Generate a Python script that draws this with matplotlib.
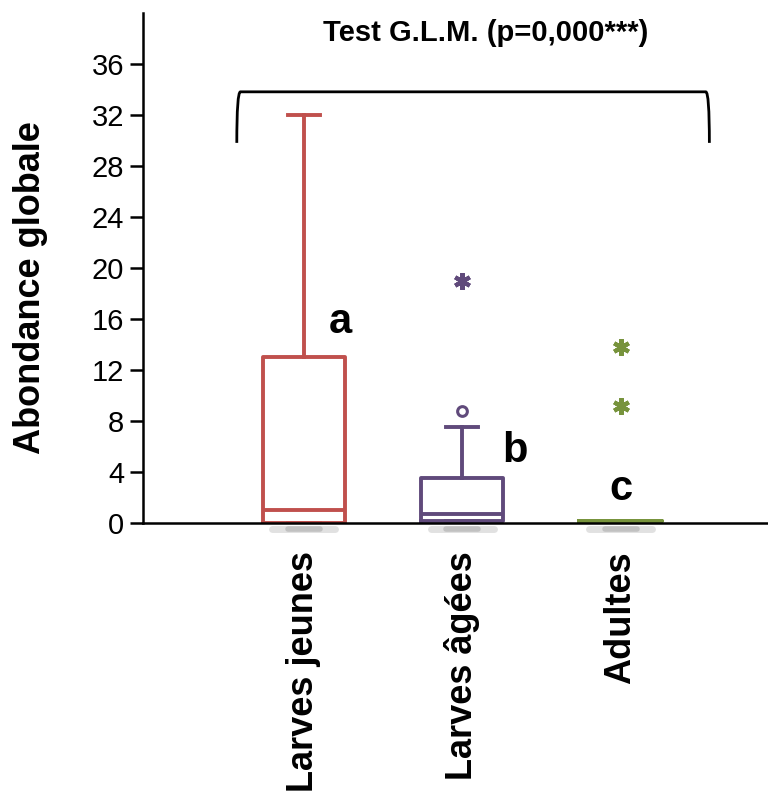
import matplotlib.pyplot as plt
from matplotlib.path import Path
from matplotlib.patches import PathPatch

plt.rcParams["font.family"] = ["Liberation Sans", "DejaVu Sans"]

# Data
categories = ["Larves jeunes", "Larves âgées", "Adultes"]
q1 = [0.0, 0.2, 0.15]
medians = [1.0, 0.7, 0.15]
q3 = [13.0, 3.5, 0.15]
whisker_low = [0.0, 0.2, 0.15]
whisker_high = [32.0, 7.5, 0.15]
outliers_circle = [[], [8.8], []]
outliers_star = [[], [19.0], [13.8, 9.2]]
letters = ["a", "b", "c"]
colors = ["#C0504D", "#604A7B", "#77933C"]

fig = plt.figure(figsize=(7.68, 7.95), dpi=100)
ax = fig.add_axes([0.186, 0.342, 0.814, 0.642])

positions = [1, 2, 3]
stats = []
for i, name in enumerate(categories):
    stats.append({
        "label": name,
        "q1": q1[i],
        "med": medians[i],
        "q3": q3[i],
        "whislo": whisker_low[i],
        "whishi": whisker_high[i],
        "fliers": [],
    })

for i in range(3):
    c = colors[i]
    # soft shadow under each box
    ax.plot([positions[i] - 0.2, positions[i] + 0.2], [-0.5, -0.5], color="#888888",
            lw=5, alpha=0.25, solid_capstyle="round", clip_on=False, zorder=1)
    ax.plot([positions[i] - 0.1, positions[i] + 0.1], [-0.5, -0.5], color="#777777",
            lw=4, alpha=0.3, solid_capstyle="round", clip_on=False, zorder=1)
    ax.bxp([stats[i]], positions=[positions[i]], widths=0.52, capwidths=0.2,
           showfliers=False, manage_ticks=False,
           boxprops=dict(color=c, lw=2.8),
           medianprops=dict(color=c, lw=2.8),
           whiskerprops=dict(color=c, lw=2.8),
           capprops=dict(color=c, lw=2.8))
    if outliers_circle[i]:
        ax.plot([positions[i]] * len(outliers_circle[i]), outliers_circle[i], "o",
                mfc="white", mec=c, mew=2.2, ms=7)
    if outliers_star[i]:
        ax.plot([positions[i]] * len(outliers_star[i]), outliers_star[i],
                marker=(6, 2, 0), ls="none", mec=c, mew=3, ms=12)

# group letters
letter_x = [1.16, 2.25, 2.93]
letter_y = [14.9, 4.8, 1.8]
for i in range(3):
    ax.text(letter_x[i], letter_y[i], letters[i], fontsize=30, fontweight="bold",
            va="baseline", ha="left")

# bracket over the groups
verts = [(0.577, 29.8), (0.577, 33.8), (0.6, 33.8), (3.537, 33.8), (3.56, 33.8), (3.56, 29.8)]
codes = [Path.MOVETO, Path.CURVE3, Path.CURVE3, Path.LINETO, Path.CURVE3, Path.CURVE3]
ax.add_patch(PathPatch(Path(verts, codes), fill=False, lw=2, ec="black"))

fig.text(0.632, 0.958, "Test G.L.M. (p=0,000***)", fontsize=21, fontweight="bold",
         ha="center", va="center")

ax.set_xlim(-0.016, 3.93)
ax.set_ylim(0, 40)
ax.set_yticks(range(0, 37, 4))
ax.tick_params(axis="y", labelsize=21, length=9.5, width=1.8, direction="out", pad=4)
ax.set_xticks(positions)
ax.set_xticklabels(categories, rotation=90, fontsize=26, fontweight="bold", va="top", ha="center")
ax.tick_params(axis="x", length=0, pad=20)

for s in ["top", "right"]:
    ax.spines[s].set_visible(False)
for s in ["left", "bottom"]:
    ax.spines[s].set_linewidth(1.8)

fig.text(0.04, 1 - 288 / 795, "Abondance globale", rotation=90, fontsize=26,
         fontweight="bold", ha="center", va="center")

plt.savefig("out.png", dpi=100)
